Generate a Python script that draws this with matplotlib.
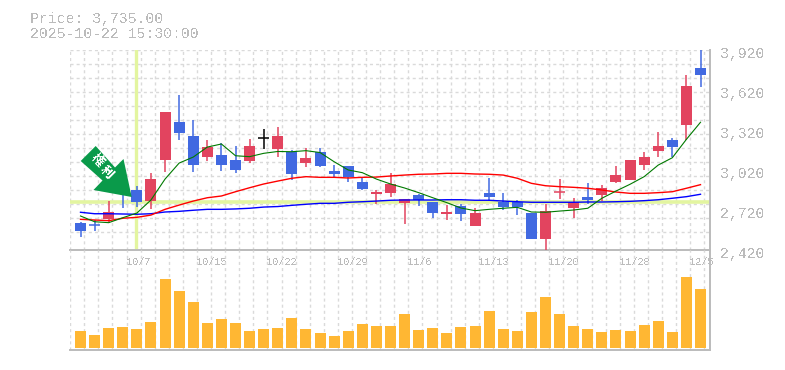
import numpy as np
import matplotlib
matplotlib.use('Agg')
import matplotlib.pyplot as plt
from matplotlib.patches import Polygon
from matplotlib.transforms import Affine2D

plt.rcParams['font.family'] = ['Liberation Mono', 'Noto Sans CJK JP']
plt.rcParams['text.antialiased'] = False

W, H = 785, 370

opens = [2622, 2612, 2650, 2885, 2870, 2787, 3095, 3380, 3275, 3117, 3132, 3095, 3087, 3258, 3177,
         3155, 3072, 3155, 3012, 3050, 2930, 2840, 2847, 2772, 2832, 2780, 2690, 2750, 2600, 2847,
         2780, 2780, 2697, 2502, 2851, 2735, 2817, 2832, 2930, 2945, 3057, 3162, 3245, 3357, 3785]
highs = [2630, 2645, 2787, 2900, 2900, 2997, 3455, 3582, 3395, 3245, 3222, 3200, 3252, 3327, 3342,
         3170, 3185, 3185, 3057, 3050, 2967, 2870, 2997, 2802, 2840, 2780, 2757, 2765, 2735, 2960,
         2847, 2795, 2697, 2765, 2952, 2810, 2922, 2907, 3050, 3095, 3155, 3305, 3260, 3732, 3950]
lows = [2518, 2562, 2625, 2735, 2745, 2727, 3007, 3245, 3005, 3087, 3012, 2997, 3072, 3177, 3117,
        2945, 3042, 3042, 2967, 2930, 2870, 2765, 2817, 2615, 2750, 2660, 2645, 2637, 2600, 2787,
        2720, 2682, 2502, 2412, 2802, 2660, 2765, 2787, 2922, 2945, 3020, 3117, 3117, 3245, 3642]
closes = [2562, 2608, 2705, 2840, 2780, 2952, 3455, 3297, 3057, 3192, 3057, 3020, 3200, 3258, 3275,
          2990, 3110, 3050, 2990, 2967, 2877, 2855, 2915, 2802, 2795, 2697, 2705, 2690, 2697, 2817,
          2742, 2742, 2502, 2712, 2855, 2780, 2795, 2885, 2982, 3095, 3117, 3200, 3192, 3650, 3735]
volume = [17, 13, 20, 21, 19, 26, 69, 57, 46, 25, 29, 25, 17, 19, 20, 30, 19, 15, 12, 17, 24, 22, 22,
          34, 18, 20, 15, 21, 22, 37, 19, 17, 36, 51, 34, 22, 19, 16, 18, 17, 23, 27, 16, 71, 59]

ma_short = [2675, 2632, 2625, 2662, 2697, 2795, 2952, 3072, 3117, 3192, 3215, 3127, 3120, 3145, 3159,
            3157, 3165, 3151, 3082, 3020, 3000, 2952, 2915, 2885, 2850, 2812, 2775, 2735, 2715, 2725,
            2733, 2740, 2705, 2703, 2712, 2720, 2733, 2808, 2862, 2913, 2970, 3057, 3112, 3250, 3378]
ma_mid = [2650, 2645, 2640, 2658, 2665, 2682, 2725, 2757, 2787, 2812, 2825, 2857, 2887, 2915, 2937,
          2958, 2970, 2965, 2965, 2960, 2965, 2967, 2975, 2982, 2988, 2990, 2995, 2995, 2990, 2988,
          2982, 2958, 2920, 2902, 2895, 2890, 2883, 2870, 2855, 2845, 2845, 2850, 2857, 2883, 2910]
ma_long = [2703, 2692, 2692, 2690, 2688, 2692, 2705, 2710, 2718, 2725, 2725, 2728, 2733, 2742, 2746,
           2755, 2763, 2770, 2770, 2778, 2782, 2787, 2793, 2795, 2795, 2795, 2797, 2797, 2793, 2793,
           2787, 2782, 2778, 2778, 2778, 2778, 2780, 2780, 2782, 2785, 2790, 2797, 2808, 2820, 2838]

date_labels = ['10/7', '10/15', '10/22', '10/29', '11/6', '11/13', '11/20', '11/28', '12/5']
date_index = [4, 9, 14, 19, 24, 29, 34, 39, 44]
price_ticks = [3920, 3620, 3320, 3020, 2720, 2420]
marker_index = 4
marker_price = 2780

RED = '#e2445f'
BLUE = '#4169e1'
GREY = '#bbbbbb'
GRID = '#dadada'
PALE = '#e3f5a0'

fig = plt.figure(figsize=(W / 100, H / 100), dpi=100)
ax = fig.add_axes([70 / W, (H - 250) / H, 640 / W, 200 / H])
ax2 = fig.add_axes([70 / W, (H - 350) / H, 640 / W, 100 / H])

n = len(closes)
idx = np.arange(n)
step = 620 / 44
xlim = (-10.5 / step, (710 - 80.5) / step)
grid_x = np.arange(0, 46) - 10.3 / step

for a in (ax, ax2):
    a.set_xlim(xlim)
    a.set_xticks(grid_x)
    a.tick_params(length=0, labelbottom=False, labelleft=False)
    a.set_yticks([])
    a.set_axisbelow(True)
    a.grid(axis='x', color=GRID, lw=1.0, linestyle=(0, (2.2, 2.2)))
    a.patch.set_alpha(0)
    for s in ('top', 'left'):
        a.spines[s].set_visible(False)
    for s in ('bottom', 'right'):
        a.spines[s].set_color(GREY)
        a.spines[s].set_linewidth(1.4)

ax.set_ylim(2420, 3920)
ax.set_yticks(3920 - 105 * np.arange(14))
ax.grid(axis='y', color=GRID, lw=1.0, linestyle=(0, (2.2, 2.2)))

ax.axhline(marker_price, color=PALE, lw=2.6, zorder=1.5)
ax.axvline(marker_index - 0.03, color=PALE, lw=2.4, zorder=1.5)

# candles
for i in idx:
    o, h, l, c = opens[i], highs[i], lows[i], closes[i]
    col = 'black' if o == c else (RED if c > o else BLUE)
    ax.vlines(i, l, h, color=col, lw=1.1, zorder=3)
    if o == c or abs(c - o) < 10:
        ax.hlines((o + c) / 2, i - 0.39, i + 0.39, color=col, lw=1.1, zorder=3)
    else:
        ax.bar(i, abs(c - o), bottom=min(o, c), width=0.78, color=col, zorder=3)

ax.plot(idx, ma_long, color='#0000ff', lw=1.0, zorder=4)
ax.plot(idx, ma_mid, color='#ff0000', lw=1.0, zorder=4)
ax.plot(idx, ma_short, color='#007a00', lw=0.8, zorder=4)

for p in price_ticks:
    ax.annotate(f'{p:,}', (1, p), xycoords=('axes fraction', 'data'),
                xytext=(7.5, -3), textcoords='offset points',
                ha='left', va='center', color=GREY, fontsize=10.7, annotation_clip=False)

for i, lab in zip(date_index, date_labels):
    ax.annotate(lab, (i, 0), xycoords=('data', 'axes fraction'),
                xytext=(-8, -8.6), textcoords='offset points',
                ha='left', va='center', color=GREY, fontsize=7.4, annotation_clip=False)

ax2.set_ylim(-2, 98)
ax2.bar(idx, volume, width=0.78, color='#ffb733', zorder=3)

# arrow marker, in pixels of the figure
to_fig = Affine2D().scale(1 / W, -1 / H).translate(0, 1) + fig.transFigure
arrow = [(95.7, 146), (115, 167.5), (123.5, 159), (131.7, 197), (93.5, 190), (102.5, 180.5), (80.7, 161)]
fig.add_artist(Polygon(arrow, closed=True, facecolor='#0a9a4a', edgecolor='none',
                       transform=to_fig, zorder=6))
fig.text(96.5 / W, 1 - 161 / H, '権', color='white', fontsize=9, fontweight='bold',
         rotation=-45, ha='center', va='center', zorder=7)
fig.text(106 / W, 1 - 172.5 / H, '利', color='white', fontsize=9, fontweight='bold',
         rotation=-45, ha='center', va='center', zorder=7)

fig.text(30 / W, 1 - 18.5 / H, 'Price: 3,735.00', color=GREY, fontsize=10.7, va='center')
fig.text(30 / W, 1 - 33.5 / H, '2025-10-22 15:30:00', color=GREY, fontsize=10.7, va='center')

fig.savefig('out.png', dpi=100)
